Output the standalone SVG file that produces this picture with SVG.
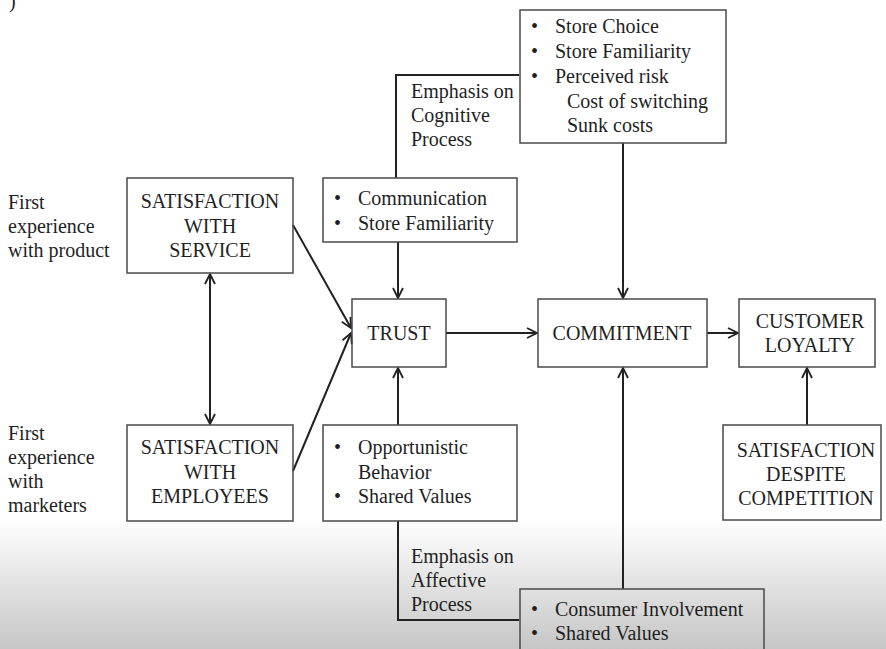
<svg xmlns="http://www.w3.org/2000/svg" width="886" height="649" viewBox="0 0 886 649">
<defs>
<linearGradient id="bg" x1="0" y1="0" x2="0" y2="1">
<stop offset="0" stop-color="#ffffff"/>
<stop offset="0.8" stop-color="#ffffff"/>
<stop offset="1" stop-color="#c6c6c6"/>
</linearGradient>
<marker id="arr" viewBox="0 0 12 12" refX="11" refY="6" markerWidth="12" markerHeight="12" markerUnits="userSpaceOnUse" orient="auto-start-reverse">
<path d="M1,1 L11,6 L1,11" fill="none" stroke="#222" stroke-width="1.8"/>
</marker>
<style>
text{font-family:"Liberation Serif","Times New Roman",serif;font-size:20px;fill:#1f1f1f}
.c{text-anchor:middle}
.box{fill:none;stroke:#4a4a4a;stroke-width:1.5}
.ln{fill:none;stroke:#222;stroke-width:2}
</style>
</defs>
<rect x="0" y="0" width="886" height="649" fill="url(#bg)"/>
<text x="9" y="8">)</text>

<g id="connectors">
<polyline class="ln" points="396,178 396,75 519,75"/>
<line class="ln" x1="398" y1="242" x2="398" y2="298" marker-end="url(#arr)"/>
<line class="ln" x1="623" y1="143" x2="623" y2="298" marker-end="url(#arr)"/>
<line class="ln" x1="293" y1="225" x2="351" y2="328" marker-end="url(#arr)"/>
<line class="ln" x1="293" y1="471" x2="351" y2="333" marker-end="url(#arr)"/>
<line class="ln" x1="210" y1="274" x2="210" y2="424" marker-start="url(#arr)" marker-end="url(#arr)"/>
<line class="ln" x1="446" y1="333" x2="537" y2="333" marker-end="url(#arr)"/>
<line class="ln" x1="707" y1="333" x2="738" y2="333" marker-end="url(#arr)"/>
<line class="ln" x1="398" y1="425" x2="398" y2="368" marker-end="url(#arr)"/>
<line class="ln" x1="807" y1="425" x2="807" y2="368" marker-end="url(#arr)"/>
<polyline class="ln" points="398,521 398,620 519,620"/>
<line class="ln" x1="623" y1="589" x2="623" y2="368" marker-end="url(#arr)"/>
</g>

<g id="lbl-cognitive">
<text x="411" y="98">Emphasis on</text>
<text x="411" y="122">Cognitive</text>
<text x="411" y="146">Process</text>
</g>
<g id="lbl-affective">
<text x="411" y="563">Emphasis on</text>
<text x="411" y="587">Affective</text>
<text x="411" y="611">Process</text>
</g>
<g id="lbl-product">
<text x="8" y="209">First</text>
<text x="8" y="233">experience</text>
<text x="8" y="257">with product</text>
</g>
<g id="lbl-marketers">
<text x="8" y="440">First</text>
<text x="8" y="464">experience</text>
<text x="8" y="488">with</text>
<text x="8" y="512">marketers</text>
</g>

<g id="store">
<rect class="box" x="520" y="10" width="206" height="133"/>
<text x="531" y="33">•</text><text x="555" y="33">Store Choice</text>
<text x="531" y="58">•</text><text x="555" y="58">Store Familiarity</text>
<text x="531" y="83">•</text><text x="555" y="83">Perceived risk</text>
<text x="567" y="108">Cost of switching</text>
<text x="567" y="132">Sunk costs</text>
</g>

<g id="communication">
<rect class="box" x="323" y="178" width="194" height="64"/>
<text x="334" y="205">•</text><text x="358" y="205">Communication</text>
<text x="334" y="230">•</text><text x="358" y="230">Store Familiarity</text>
</g>

<g id="sat-service">
<rect class="box" x="127" y="178" width="166" height="95"/>
<text class="c" x="210" y="208">SATISFACTION</text>
<text class="c" x="210" y="233">WITH</text>
<text class="c" x="210" y="257">SERVICE</text>
</g>

<g id="sat-employees">
<rect class="box" x="127" y="425" width="166" height="96"/>
<text class="c" x="210" y="454">SATISFACTION</text>
<text class="c" x="210" y="479">WITH</text>
<text class="c" x="210" y="503">EMPLOYEES</text>
</g>

<g id="trust">
<rect class="box" x="352" y="299" width="94" height="68"/>
<text class="c" x="399" y="340">TRUST</text>
</g>

<g id="commitment">
<rect class="box" x="538" y="299" width="169" height="68"/>
<text class="c" x="622" y="340">COMMITMENT</text>
</g>

<g id="loyalty">
<rect class="box" x="739" y="299" width="136" height="68"/>
<text class="c" x="810" y="328">CUSTOMER</text>
<text class="c" x="810" y="352">LOYALTY</text>
</g>

<g id="sat-competition">
<rect class="box" x="723" y="425" width="158" height="95"/>
<text class="c" x="806" y="457">SATISFACTION</text>
<text class="c" x="806" y="481">DESPITE</text>
<text class="c" x="806" y="505">COMPETITION</text>
</g>

<g id="opportunistic">
<rect class="box" x="323" y="425" width="194" height="96"/>
<text x="334" y="454">•</text><text x="358" y="454">Opportunistic</text>
<text x="358" y="479">Behavior</text>
<text x="334" y="503">•</text><text x="358" y="503">Shared Values</text>
</g>

<g id="involvement">
<rect class="box" x="520" y="589" width="244" height="70"/>
<text x="531" y="616">•</text><text x="555" y="616">Consumer Involvement</text>
<text x="531" y="640">•</text><text x="555" y="640">Shared Values</text>
</g>
</svg>
